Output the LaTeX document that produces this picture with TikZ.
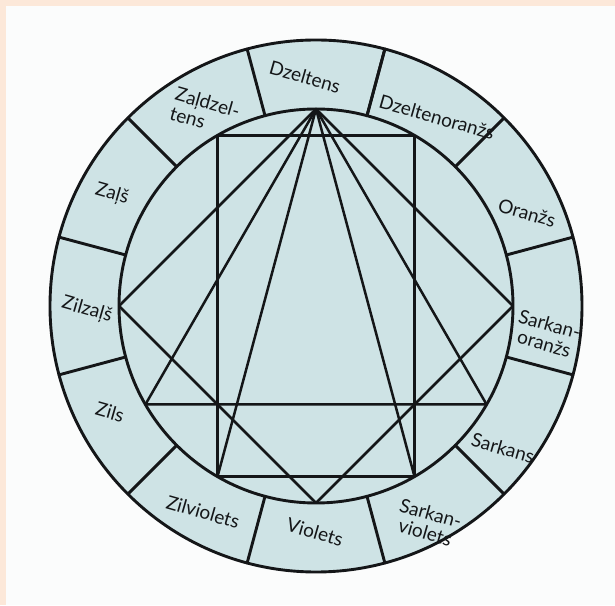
\documentclass[tikz,border=0pt]{standalone}
\usepackage{fontspec}
\setmainfont{Lato}
\usetikzlibrary{calc}
\definecolor{peach}{HTML}{FCE8D9}
\definecolor{wheelfill}{HTML}{CEE3E5}
\definecolor{bgwhite}{HTML}{FBFCFC}
\definecolor{ink}{HTML}{141618}
\begin{document}
\begin{tikzpicture}[x=1pt,y=1pt, line join=round, line cap=round,
  ring/.style={line width=2.9pt, draw=ink},
  chord/.style={line width=2.5pt, draw=ink},
  lbl/.style={font=\fontsize{19}{20}\selectfont, text=ink, rotate=-16, inner sep=0pt, align=center}]
\useasboundingbox (0,0) rectangle (615,605);
\fill[bgwhite] (0,0) rectangle (615,605);
\fill[peach] (0,599) rectangle (615,605);
\fill[peach] (0,0) rectangle (6,605);
\coordinate (C) at (316,299);
\filldraw[ring, fill=wheelfill] (C) circle (266);
\draw[ring] (C) circle (197);
\foreach \a in {75,105,...,435}
  \draw[ring] ($(C)+(\a:197)$) -- ($(C)+(\a:266)$);
\foreach \a in {0,30,...,330}
  \coordinate (p\a) at ($(C)+(\a:197)$);
% rectangle
\draw[chord] (p60) -- (p120) -- (p240) -- (p300) -- cycle;
% square
\draw[chord] (p90) -- (p0) -- (p270) -- (p180) -- cycle;
% triangle
\draw[chord] (p90) -- (p210) -- (p330) -- cycle;
% tall triangle
\draw[chord] (p240) -- (p90) -- (p300);
% labels
\node[lbl] (l90) at (305,528) {Dzeltens};
\node[lbl] (l60) at (437,488) {Dzeltenoranžs};
\node[lbl] (l30) at (527,392) {Oranžs};
\node[lbl] (l0) at (547,271) {Sarkan-\\oranžs};
\node[lbl] (l330) at (503,157) {Sarkans};
\node[lbl] (l300) at (428,82) {Sarkan-\\violets};
\node[lbl] (l270) at (315,73) {Violets};
\node[lbl] (l240) at (203,93) {Zilviolets};
\node[lbl] (l210) at (110,193) {Zils};
\node[lbl] (l180) at (87,295) {Zilzaļš};
\node[lbl] (l150) at (112,411) {Zaļš};
\node[lbl, align=left] (l120) at (205,493) {Zaļdzel-\\tens};
\end{tikzpicture}
\end{document}
